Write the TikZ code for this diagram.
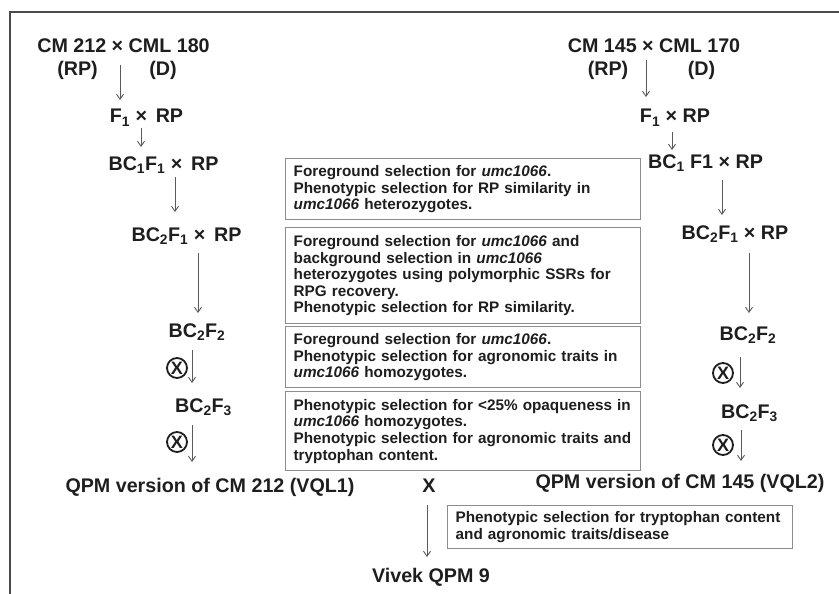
\documentclass[tikz,border=0pt]{standalone}
\usepackage{fontspec}
\setmainfont{Liberation Sans}
\usetikzlibrary{arrows.meta}
\definecolor{ink}{HTML}{1E1E1E}
\definecolor{linec}{HTML}{5A5A5A}
\definecolor{boxc}{HTML}{8C8C8C}
\definecolor{framec}{HTML}{4A4A4A}
\begin{document}
\begin{tikzpicture}[x=1pt,y=-1pt,
  lab/.style={anchor=base, inner sep=0pt, font=\fontsize{19.7}{22}\selectfont\bfseries, text=ink},
  selbox/.style={draw=boxc, line width=1.3pt, anchor=north west, inner xsep=8pt, inner ysep=0pt,
    text width=#1, align=left, font=\fontsize{15.3}{16.6}\selectfont\bfseries, text=ink},
  arr/.style={draw=linec, line width=0.9pt, -{Straight Barb[length=5pt,width=7pt]}},
  selfx/.style={circle, draw=ink, line width=1.8pt, inner sep=0pt, minimum size=20pt,
    font=\fontsize{18}{18}\selectfont\bfseries, text=ink},
]
\useasboundingbox (0,0) rectangle (839,594);
\fill[white] (0,0) rectangle (839,594);
\draw[framec, line width=1.3pt] (10,594) -- (10,12) -- (839,12);

% left chain
\node[lab] (l0) at (123.5,53) {CM 212 × CML 180};
\node[lab] (l0rp) at (77.5,76) {(RP)};
\node[lab] (l0d) at (163,76) {(D)};
\node[lab] (l1) at (146.5,123) {F\textsubscript{1} ×\, RP};
\node[lab] (l2) at (163.5,170) {BC\textsubscript{1}F\textsubscript{1} ×\, RP};
\node[lab] (l3) at (186.5,241) {BC\textsubscript{2}F\textsubscript{1} ×\, RP};
\node[lab] (l4) at (197,337) {BC\textsubscript{2}F\textsubscript{2}};
\node[lab] (l5) at (203.5,412) {BC\textsubscript{2}F\textsubscript{3}};
\node[lab] (l6) at (210,492) {QPM version of CM 212 (VQL1)};
\node[selfx] (lx1) at (177,368) {X};
\node[selfx] (lx2) at (177,442) {X};

% right chain
\node[lab] (r0) at (654,53) {CM 145 × CML 170};
\node[lab] (r0rp) at (608,76) {(RP)};
\node[lab] (r0d) at (701.5,76) {(D)};
\node[lab] (r1) at (675,123) {F\textsubscript{1} × RP};
\node[lab] (r2) at (705.5,168) {BC\textsubscript{1} F1 × RP};
\node[lab] (r3) at (735,239) {BC\textsubscript{2}F\textsubscript{1} × RP};
\node[lab] (r4) at (748,340) {BC\textsubscript{2}F\textsubscript{2}};
\node[lab] (r5) at (749.5,418) {BC\textsubscript{2}F\textsubscript{3}};
\node[lab] (r6) at (680,488) {QPM version of CM 145 (VQL2)};
\node[selfx] (rx1) at (723,373) {X};
\node[selfx] (rx2) at (723,445) {X};

% cross and product
\node[lab] (cx) at (429,492) {X};
\node[lab] (vq) at (431,582) {Vivek QPM 9};

% arrows
\foreach \n/\x/\ya/\yb in {a1/120/65/100, a2/141/128/147, a3/175/177/212, a4/198/253/313,
  a5/192/350/383, a6/192/425/462,
  b1/646/60/97, b2/672/132/150, b3/722/180/215, b4/749/253/313,
  b5/740/357/388, b6/741/430/461, c1/427/505/557}{
  \coordinate (\n s) at (\x,\ya);
  \coordinate (\n e) at (\x,\yb);
  \draw[arr] (\n s) -- (\n e);
}

% selection boxes
\node[selbox=339pt, minimum height=61pt] (s1) at (285,158)
  {Foreground selection for \textit{umc1066}.\\
   Phenotypic selection for RP similarity in\\
   \textit{umc1066} heterozygotes.};
\node[selbox=339pt, minimum height=96pt] (s2) at (285,227)
  {Foreground selection for \textit{umc1066} and\\
   background selection in \textit{umc1066}\\
   heterozygotes using polymorphic SSRs for\\
   RPG recovery.\\
   Phenotypic selection for RP similarity.};
\node[selbox=339pt, minimum height=61pt] (s3) at (285,326)
  {Foreground selection for \textit{umc1066}.\\
   Phenotypic selection for agronomic traits in\\
   \textit{umc1066} homozygotes.};
\node[selbox=339pt, minimum height=79pt] (s4) at (285,391)
  {Phenotypic selection for <25\% opaqueness in\\
   \textit{umc1066} homozygotes.\\
   Phenotypic selection for agronomic traits and\\
   tryptophan content.};
\node[selbox=329pt, minimum height=43pt] (s5) at (447,505)
  {Phenotypic selection for tryptophan content\\
   and agronomic traits/disease};
\end{tikzpicture}
\end{document}
